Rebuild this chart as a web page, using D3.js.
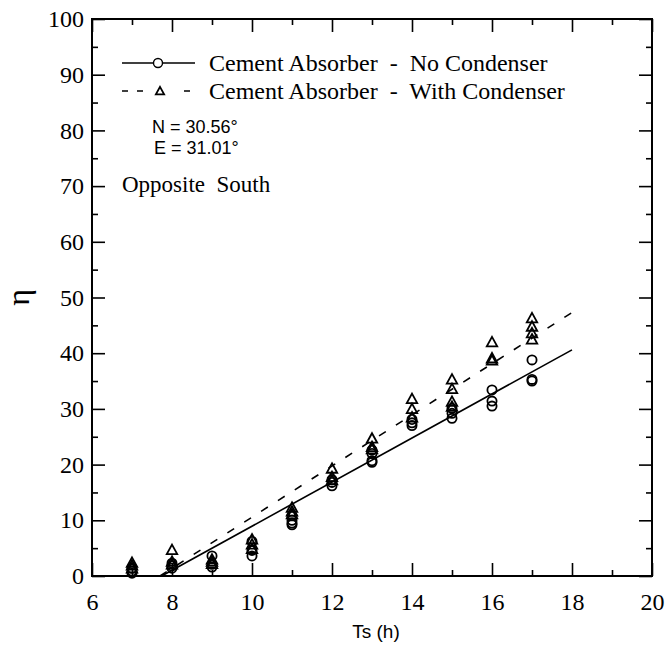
<!DOCTYPE html>
<html>
<head>
<meta charset="utf-8">
<script src="https://cdn.jsdelivr.net/npm/d3@7"></script>
<style>
  body { margin: 0; background: #fff; }
  text { white-space: pre; }
</style>
</head>
<body>
<svg width="668" height="646"></svg>
<script>
// data
const hours = [7, 8, 9, 10, 11, 12, 13, 14, 15, 16, 17];
const noCondenser = [
    [1.4, 0.9, 0.5], [2.3, 1.8, 1.4], [3.6, 2.1, 1.6], [6.2, 4.6, 3.6],
    [10.8, 10.0, 9.5, 9.2], [17.3, 16.8, 16.2], [22.6, 22.0, 20.7, 20.4],
    [28.1, 27.5, 27.0], [30.1, 29.2, 28.3], [33.4, 31.4, 30.5], [38.8, 35.3, 35.0]
];
const withCondenser = [
    [2.4, 1.9, 1.4], [4.7, 2.6, 2.1], [3.0, 2.6, 2.2], [6.6, 5.7, 4.9],
    [12.3, 11.6, 11.1], [19.3, 17.8, 17.2], [24.7, 23.2, 22.8],
    [31.8, 30.0, 28.5], [35.3, 33.6, 31.3, 30.4], [42.0, 39.1, 38.7], [46.3, 44.8, 43.6, 42.5]
];
// fitted lines (start, end)
const fitNoX = [7.74, 18];
const fitNoY = [0, 40.6];
const fitWithX = [7.7, 18];
const fitWithY = [0, 47.3];

const xTicks = [6, 8, 10, 12, 14, 16, 18, 20];
const xMinor = [7, 9, 11, 13, 15, 17, 19];
const yTicks = [0, 10, 20, 30, 40, 50, 60, 70, 80, 90, 100];
const yMinor = [5, 15, 25, 35, 45, 55, 65, 75, 85, 95];

const legendNames = ['Cement Absorber  -  No Condenser', 'Cement Absorber  -  With Condenser'];

const margin = {top: 19, right: 16, bottom: 70, left: 92};
const width = 668 - margin.left - margin.right;
const height = 646 - margin.top - margin.bottom;

const x = d3.scaleLinear().domain([6, 20]).range([0, width]);
const y = d3.scaleLinear().domain([0, 100]).range([height, 0]);

const svg = d3.select('svg');
const g = svg.append('g')
    .attr('transform', `translate(${margin.left}, ${margin.top})`);

const serif = "'Liberation Serif', 'Times New Roman', serif";
const sans = "'Liberation Sans', Arial, sans-serif";

// axes: major ticks with labels, minor ticks without, ticks point inwards
function styleAxis(sel) {
    sel.select('.domain').remove();
    sel.selectAll('line').attr('stroke', '#000').attr('stroke-width', 1.6);
    sel.selectAll('text').style('font-family', serif).attr('font-size', 24).attr('fill', '#000');
}

g.append('g')
    .attr('transform', `translate(0, ${height})`)
    .call(d3.axisBottom(x).tickValues(xTicks).tickSize(-13).tickPadding(17).tickFormat(d3.format('d')))
    .call(styleAxis);
g.append('g')
    .attr('transform', `translate(0, ${height})`)
    .call(d3.axisBottom(x).tickValues(xMinor).tickSize(-6).tickFormat(''))
    .call(styleAxis);
g.append('g')
    .call(d3.axisTop(x).tickValues(xTicks).tickSize(-13).tickFormat(''))
    .call(styleAxis);
g.append('g')
    .call(d3.axisTop(x).tickValues(xMinor).tickSize(-6).tickFormat(''))
    .call(styleAxis);

g.append('g')
    .call(d3.axisLeft(y).tickValues(yTicks).tickSize(-13).tickPadding(8).tickFormat(d3.format('d')))
    .call(styleAxis);
g.append('g')
    .call(d3.axisLeft(y).tickValues(yMinor).tickSize(-6).tickFormat(''))
    .call(styleAxis);
g.append('g')
    .attr('transform', `translate(${width}, 0)`)
    .call(d3.axisRight(y).tickValues(yTicks).tickSize(-13).tickFormat(''))
    .call(styleAxis);
g.append('g')
    .attr('transform', `translate(${width}, 0)`)
    .call(d3.axisRight(y).tickValues(yMinor).tickSize(-6).tickFormat(''))
    .call(styleAxis);

// frame
g.append('rect')
    .attr('width', width)
    .attr('height', height)
    .attr('fill', 'none')
    .attr('stroke', '#000')
    .attr('stroke-width', 2);

// fit lines
const line = d3.line().x(d => x(d[0])).y(d => y(d[1]));

g.append('path')
    .datum(d3.zip(fitNoX, fitNoY))
    .attr('fill', 'none')
    .attr('stroke', '#000')
    .attr('stroke-width', 1.6)
    .attr('d', line);

g.append('path')
    .datum(d3.zip(fitWithX, fitWithY))
    .attr('fill', 'none')
    .attr('stroke', '#000')
    .attr('stroke-width', 1.6)
    .attr('stroke-dasharray', '8,12')
    .attr('d', line);

// points
const flat = (vals) => hours.flatMap((h, i) => vals[i].map(v => [h, v]));
const tri = (s) => `M0,${-s * 0.55}L${s * 0.55},${s * 0.45}L${-s * 0.55},${s * 0.45}Z`;

g.selectAll('.circ')
    .data(flat(noCondenser))
    .join('circle')
    .attr('class', 'circ')
    .attr('cx', d => x(d[0]))
    .attr('cy', d => y(d[1]))
    .attr('r', 4.6)
    .attr('fill', 'none')
    .attr('stroke', '#000')
    .attr('stroke-width', 1.8);

g.selectAll('.tri')
    .data(flat(withCondenser))
    .join('path')
    .attr('class', 'tri')
    .attr('transform', d => `translate(${x(d[0])}, ${y(d[1])})`)
    .attr('d', tri(9.5))
    .attr('fill', 'none')
    .attr('stroke', '#000')
    .attr('stroke-width', 1.8);

// legend
svg.append('line')
    .attr('x1', 122).attr('x2', 195).attr('y1', 63).attr('y2', 63)
    .attr('stroke', '#000').attr('stroke-width', 1.4);
svg.append('circle')
    .attr('cx', 158).attr('cy', 63).attr('r', 4.5)
    .attr('fill', '#fff').attr('stroke', '#000').attr('stroke-width', 1.4);
svg.append('line')
    .attr('x1', 122).attr('x2', 195).attr('y1', 91).attr('y2', 91)
    .attr('stroke', '#000').attr('stroke-width', 1.4)
    .attr('stroke-dasharray', '6,9,6,41,6');
svg.append('path')
    .attr('transform', 'translate(160, 91)')
    .attr('d', tri(7.5))
    .attr('fill', '#fff').attr('stroke', '#000').attr('stroke-width', 1.8);

svg.selectAll('.leg')
    .data(legendNames)
    .join('text')
    .attr('class', 'leg')
    .attr('x', 209)
    .attr('y', (d, i) => 71 + i * 28)
    .style('font-family', serif)
    .attr('font-size', 24)
    .text(d => d);

// annotations
svg.append('text')
    .attr('x', 152).attr('y', 133)
    .style('font-family', sans).attr('font-size', 18)
    .text('N = 30.56°');
svg.append('text')
    .attr('x', 154).attr('y', 154)
    .style('font-family', sans).attr('font-size', 18)
    .text('E = 31.01°');
svg.append('text')
    .attr('x', 122).attr('y', 192)
    .style('font-family', serif).attr('font-size', 23)
    .text('Opposite  South');

// axis titles
svg.append('text')
    .attr('x', margin.left + width / 2 + 4)
    .attr('y', 638)
    .attr('text-anchor', 'middle')
    .style('font-family', sans).attr('font-size', 19)
    .text('Ts (h)');
svg.append('text')
    .attr('transform', `translate(29, ${margin.top + height / 2}) rotate(-90)`)
    .attr('text-anchor', 'middle')
    .style('font-family', serif).attr('font-size', 32)
    .text('η');
</script>
</body>
</html>
